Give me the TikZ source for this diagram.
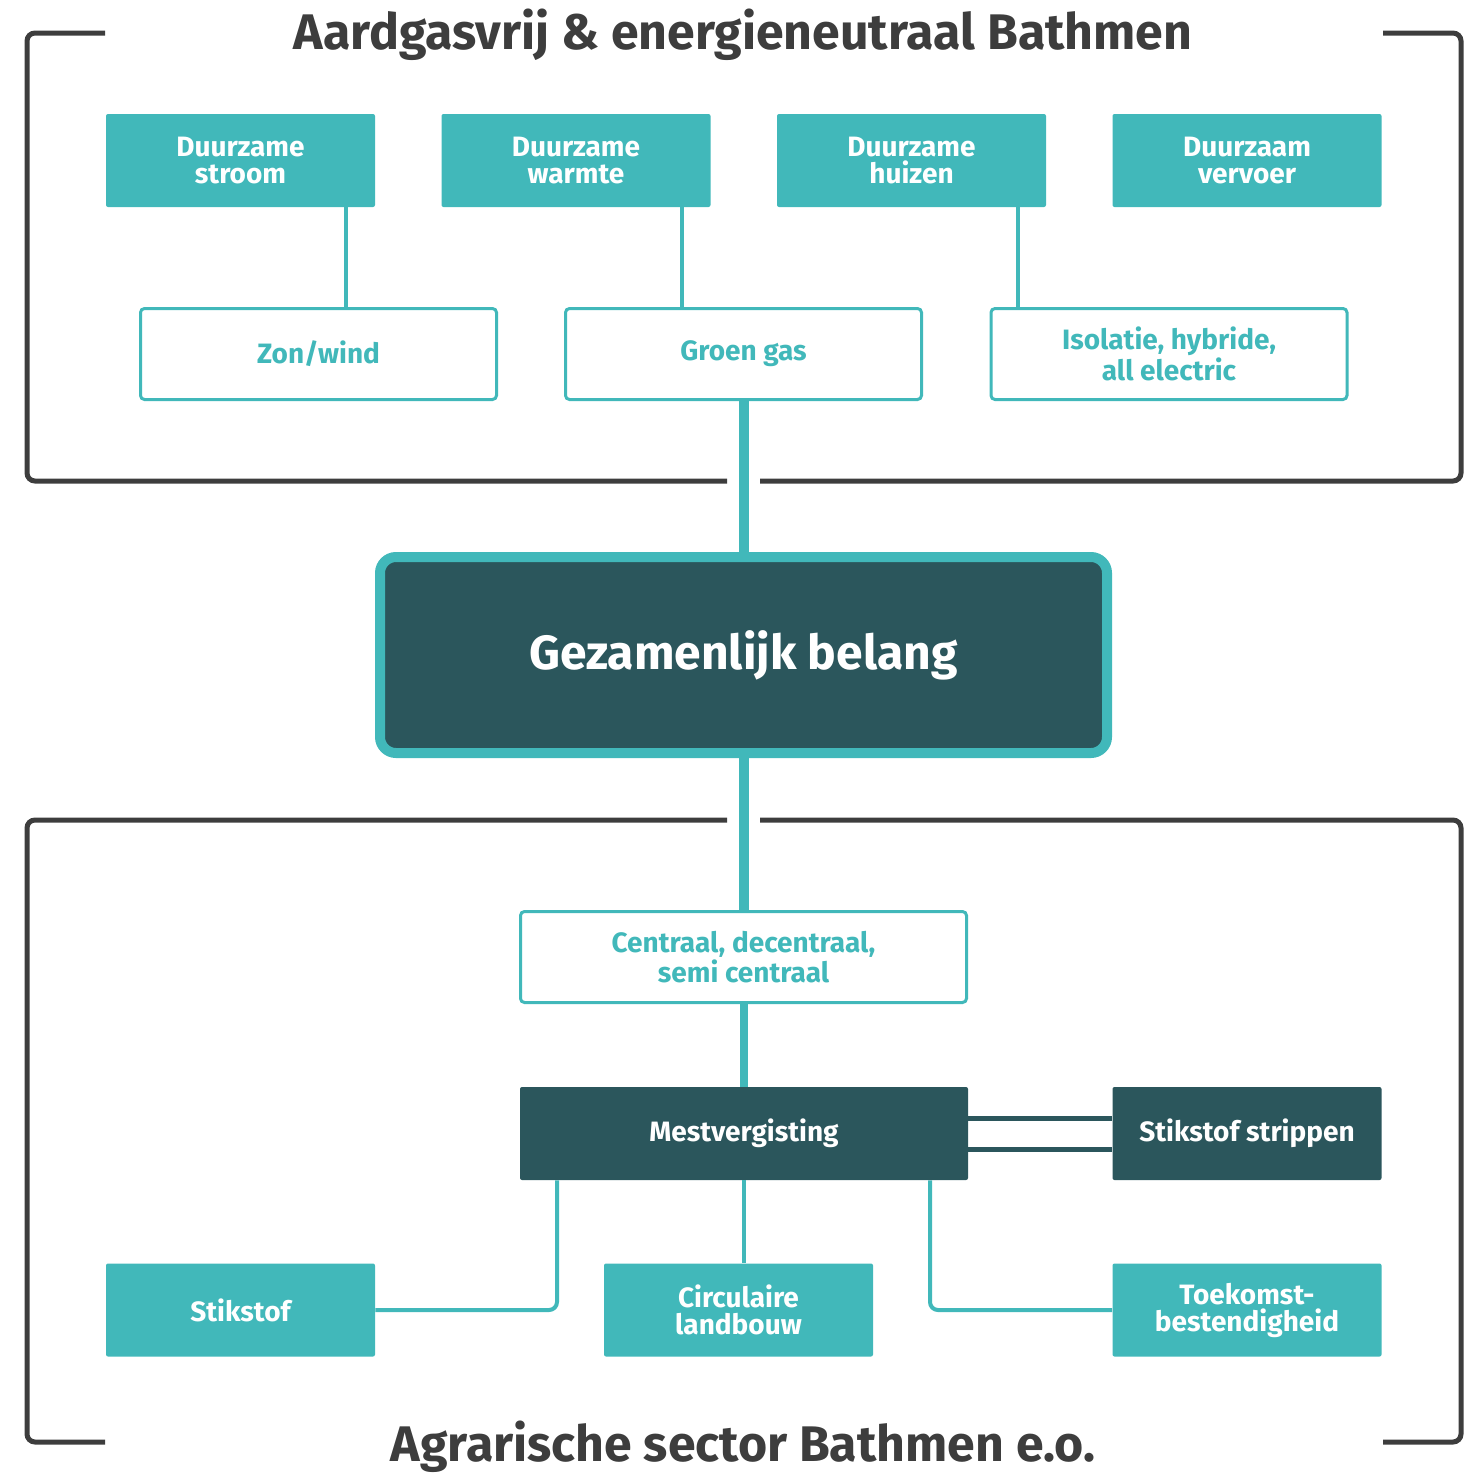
\documentclass[tikz,border=0pt]{standalone}
\usepackage{fontspec}
\setmainfont{Fira Sans}
\usetikzlibrary{positioning}

\definecolor{bathteal}{HTML}{41B8BA}
\definecolor{bathdark}{HTML}{2B565C}
\definecolor{bathgrey}{HTML}{3D3D3D}

\def \thinLink {2pt}
\def \thickLink {5pt}

\tikzset{
  theme/.style={fill=bathteal, text=white, minimum width=134.5pt, minimum height=46.5pt,
    inner sep=0pt, align=center, rounded corners=1pt, font=\fontsize{14}{13.5}\selectfont\bfseries},
  option/.style={draw=bathteal, line width=1.5pt, fill=white, text=bathteal,
    minimum width=178pt, minimum height=45.5pt, inner sep=0pt, align=center,
    rounded corners=2pt, font=\fontsize{14}{13.5}\selectfont\bfseries},
  core/.style={fill=bathdark, text=white, minimum height=46.5pt, inner sep=0pt,
    align=center, rounded corners=1pt, font=\fontsize{14}{13.5}\selectfont\bfseries},
  frame/.style={draw=bathgrey, line width=2.5pt, rounded corners=4pt},
  link/.style={draw=bathteal, line width=\thinLink, rounded corners=4pt},
  trunk/.style={draw=bathteal, line width=\thickLink},
  heading/.style={text=bathgrey, inner sep=0pt, font=\fontsize{25}{25}\selectfont\bfseries}
}

\begin{document}
\begin{tikzpicture}[x=0.5pt, y=-0.5pt]
  \useasboundingbox (0,0) rectangle (1471,1473);

  % kaders
  \draw[frame] (105,33) -- (27,33) -- (27,481) -- (727,481);
  \draw[frame] (760,481) -- (1461,481) -- (1461,33) -- (1383,33);
  \draw[frame] (727,820) -- (27,820) -- (27,1442) -- (105,1442);
  \draw[frame] (760,820) -- (1461,820) -- (1461,1442) -- (1383,1442);

  \node[heading] (titleTop) at (743,35) {Aardgasvrij \& energieneutraal Bathmen};
  \node[heading] (titleBottom) at (743,1447) {Agrarische sector Bathmen e.o.};

  % bovenste rij
  \node[theme] (stroom) at (240.5,160.5) {Duurzame\\stroom};
  \node[theme] (warmte) at (576,160.5) {Duurzame\\warmte};
  \node[theme] (huizen) at (911.5,160.5) {Duurzame\\huizen};
  \node[theme] (vervoer) at (1247,160.5) {Duurzaam\\vervoer};

  \node[option] (zonwind) at (318.5,354) {Zon/wind};
  \node[option] (groengas) at (743.5,354) {Groen gas};
  \node[option] (isolatie) at (1169,354) {Isolatie, hybride,\\all electric};

  \draw[link] (346,0 |- stroom.south) -- (346,0 |- zonwind.north);
  \draw[link] (682,0 |- warmte.south) -- (682,0 |- groengas.north);
  \draw[link] (1018,0 |- huizen.south) -- (1018,0 |- isolatie.north);

  % midden
  \node[draw=bathteal, line width=5pt, fill=bathdark, text=white, minimum width=363.5pt,
    minimum height=98pt, rounded corners=8pt, inner sep=0pt,
    font=\fontsize{24}{24}\selectfont\bfseries] (belang) at (743.5,655) {Gezamenlijk belang};

  % onderste deel
  \node[option, minimum width=223pt] (centraal) at (743.5,957) {Centraal, decentraal,\\semi centraal};
  \node[core, minimum width=224pt] (mest) at (744,1133.5) {Mestvergisting};
  \node[core, minimum width=134.5pt] (strippen) at (1247,1133.5) {Stikstof strippen};

  \draw[trunk] (743.5,0 |- groengas.south) -- (743.5,0 |- belang.north);
  \draw[trunk] (743.5,0 |- belang.south) -- (743.5,0 |- centraal.north);
  \draw[trunk, line width=4pt] (743.5,0 |- centraal.south) -- (743.5,0 |- mest.north);
  \draw[draw=bathdark, line width=2.5pt] (mest.east |- 0,1118) -- (strippen.west |- 0,1118);
  \draw[draw=bathdark, line width=2.5pt] (mest.east |- 0,1149) -- (strippen.west |- 0,1149);

  \node[theme] (stikstof) at (240.5,1310) {Stikstof};
  \node[theme] (circulair) at (738.5,1310) {Circulaire\\landbouw};
  \node[theme] (toekomst) at (1247,1310) {Toekomst-\\bestendigheid};

  \draw[link] (557,0 |- mest.south) |- (stikstof.east);
  \draw[link] (743.5,0 |- mest.south) -- (743.5,0 |- circulair.north);
  \draw[link] (930,0 |- mest.south) |- (toekomst.west);
\end{tikzpicture}
\end{document}
